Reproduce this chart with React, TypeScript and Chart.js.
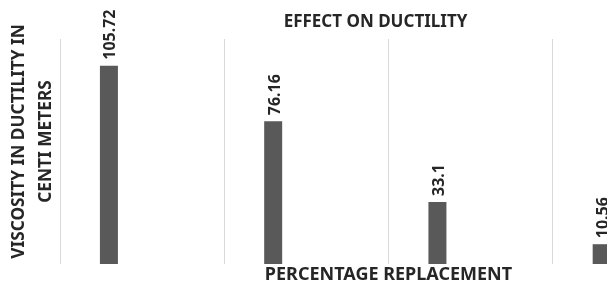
import React, { useEffect, useRef } from "react";
import { Chart, registerables } from "chart.js";

Chart.register(...registerables);

const categories = ["0%", "10%", "20%", "30%"];
const ductility = [105.72, 76.16, 33.1, 10.56];
const valueLabels = ["105.72", "76.16", "33.1", "10.56"];
const chartTitle = "EFFECT ON DUCTILITY";
const xTitle = "PERCENTAGE REPLACEMENT";
const yTitle = ["VISCOSITY IN DUCTILITY IN", "CENTI METERS"];

const FONT = "'Noto Sans'";

const labelPlugin = {
  id: "rotatedValueLabels",
  afterDatasetsDraw(chart: any) {
    const meta = chart.getDatasetMeta(0);
    const ctx = chart.ctx;
    ctx.save();
    ctx.font = `bold 16px ${FONT}`;
    ctx.fillStyle = "#262626";
    ctx.textAlign = "left";
    ctx.textBaseline = "middle";
    meta.data.forEach((bar: any, i: number) => {
      ctx.save();
      ctx.translate(bar.x + 2, bar.y - 6);
      ctx.rotate(-Math.PI / 2);
      ctx.fillText(valueLabels[i], 0, 0);
      ctx.restore();
    });
    ctx.restore();
  },
};

// Excel placed the value-axis title slightly above the plot-area centre:
// shift only the y scale's box while the axes are painted (before the bars).
const Y_TITLE_RAISE = 20;
const yTitleShift = {
  id: "yTitleShift",
  beforeDraw(chart: any) {
    const s = chart.scales.y;
    if (s) s.bottom -= Y_TITLE_RAISE;
  },
  beforeDatasetsDraw(chart: any) {
    const s = chart.scales.y;
    if (s) s.bottom += Y_TITLE_RAISE;
  },
};

export default function App() {
  const ref = useRef<HTMLCanvasElement>(null);
  useEffect(() => {
    if (!ref.current) return;
    const chart = new Chart(ref.current, {
      type: "bar",
      data: {
        labels: categories,
        datasets: [
          {
            label: "Ductility",
            data: ductility,
            backgroundColor: "#595959",
            categoryPercentage: 0.8085,
            barPercentage: 0.271,
          },
          {
            label: "Series 2",
            data: [],
            backgroundColor: "#a5a5a5",
            categoryPercentage: 0.8085,
            barPercentage: 0.271,
          },
        ],
      },
      options: {
        responsive: false,
        animation: false,
        devicePixelRatio: 1,
        layout: { padding: 0 },
        plugins: {
          legend: { display: false },
          tooltip: { enabled: false },
          title: {
            display: true,
            text: chartTitle,
            color: "#262626",
            font: { family: FONT, size: 17, weight: "bold", lineHeight: 1.2 },
            padding: { top: 11.8, bottom: 6.8 },
          },
        },
        scales: {
          x: {
            offset: true,
            grid: {
              display: true,
              offset: true,
              drawTicks: false,
              color: "#d9d9d9",
              lineWidth: 1,
            },
            border: { display: false },
            ticks: { display: false },
            title: {
              display: true,
              text: xTitle,
              color: "#262626",
              font: { family: FONT, size: 18, weight: "bold", lineHeight: 1.2 },
              padding: { top: 0.2, bottom: 2.2 },
            },
            afterFit: (scale: any) => {
              scale.paddingRight = 34;
            },
          },
          y: {
            min: 0,
            max: 120,
            grid: { display: false, drawTicks: false },
            border: { display: false },
            ticks: { display: false },
            title: {
              display: true,
              text: yTitle,
              color: "#262626",
              font: { family: FONT, size: 17.3, weight: "bold", lineHeight: "27px" },
              padding: { top: 6, bottom: 0 },
            },
          },
        },
      },
      plugins: [labelPlugin, yTitleShift],
    });
    return () => chart.destroy();
  }, []);
  return (
    <div
      style={{
        position: "fixed",
        left: 0,
        top: 0,
        width: 607,
        height: 288,
        overflow: "hidden",
        background: "#fff",
      }}
    >
      <canvas ref={ref} width={751} height={288} style={{ display: "block" }} />
    </div>
  );
}
